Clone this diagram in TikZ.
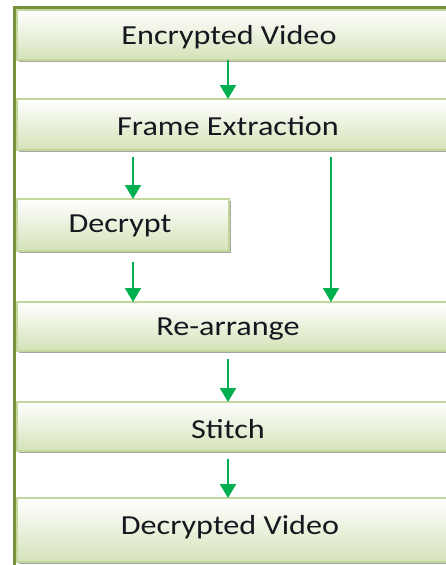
\documentclass[tikz,border=0pt]{standalone}
\usepackage{fontspec}
\setmainfont{Carlito}
\usetikzlibrary{shadows,arrows.meta}
\definecolor{frameolive}{HTML}{76923C}
\definecolor{boxedge}{HTML}{C3D69B}
\definecolor{boxbottom}{HTML}{D4E2B8}
\definecolor{flowgreen}{HTML}{00B050}
\definecolor{labelink}{HTML}{17171F}
\tikzset{
  stage/.style={draw=boxedge, line width=1.2pt, top color=white, bottom color=boxbottom,
    anchor=north west, inner sep=0pt, outer sep=0pt,
    drop shadow={shadow xshift=1.5pt, shadow yshift=-2.2pt, fill=black, opacity=0.35}},
  caption/.style={text=labelink, font=\fontsize{27.5}{30}\selectfont, inner sep=0pt},
  flow/.style={draw=flowgreen, line width=1.9pt,
    -{Triangle[width=16pt,length=14pt]}},
}
\newcommand{\wide}[1]{\scalebox{1.17}[1]{#1}}
\begin{document}
\begin{tikzpicture}[x=1pt,y=-1pt]
  \useasboundingbox (0,0) rectangle (446,565);
  \clip (0,0) rectangle (446,565);
  \fill[white] (0,0) rectangle (446,565);

  % process boxes (the wide ones run on past the right margin)
  \node[stage, minimum width=450pt, minimum height=50pt] (enc) at (17,10) {};
  \node[stage, minimum width=450pt, minimum height=51pt] (fe)  at (17,99) {};
  \node[stage, minimum width=212pt, minimum height=52pt] (dec) at (17,199) {};
  \node[stage, minimum width=450pt, minimum height=49pt] (re)  at (17,302) {};
  \node[stage, minimum width=450pt, minimum height=49pt] (st)  at (17,402) {};
  \node[stage, minimum width=450pt, minimum height=64pt] (out) at (17,498) {};

  % labels
  \node[caption] (tenc) at (229,37)  {\wide{Encrypted Video}};
  \node[caption] (tfe)  at (228,126) {\wide{Frame Extraction}};
  \node[caption] (tdec) at (120,226) {\wide{Decrypt}};
  \node[caption] (tre)  at (228,329) {\wide{Re-arrange}};
  \node[caption] (tst)  at (228,429) {\wide{Stitch}};
  \node[caption] (tout) at (230,527) {\wide{Decrypted Video}};

  % columns along which the arrows run
  \coordinate (cmid)   at (228,0);
  \coordinate (cleft)  at (133,0);
  \coordinate (cright) at (331,0);

  \draw[flow] (enc.south -| cmid)  -- (fe.north -| cmid);
  \draw[flow, shorten <=7pt] (fe.south -| cleft)  -- (dec.north -| cleft);
  \draw[flow, shorten <=7pt] (fe.south -| cright) -- (re.north -| cright);
  \draw[flow, shorten <=11pt] (dec.south -| cleft) -- (re.north -| cleft);
  \draw[flow, shorten <=8pt] (re.south -| cmid)  -- (st.north -| cmid);
  \draw[flow, shorten <=8pt] (st.south -| cmid)  -- (out.north -| cmid);

  % outer frame
  \draw[frameolive, line width=2.8pt] (14.5,570) -- (14.5,7.5) -- (460,7.5);
\end{tikzpicture}
\end{document}
